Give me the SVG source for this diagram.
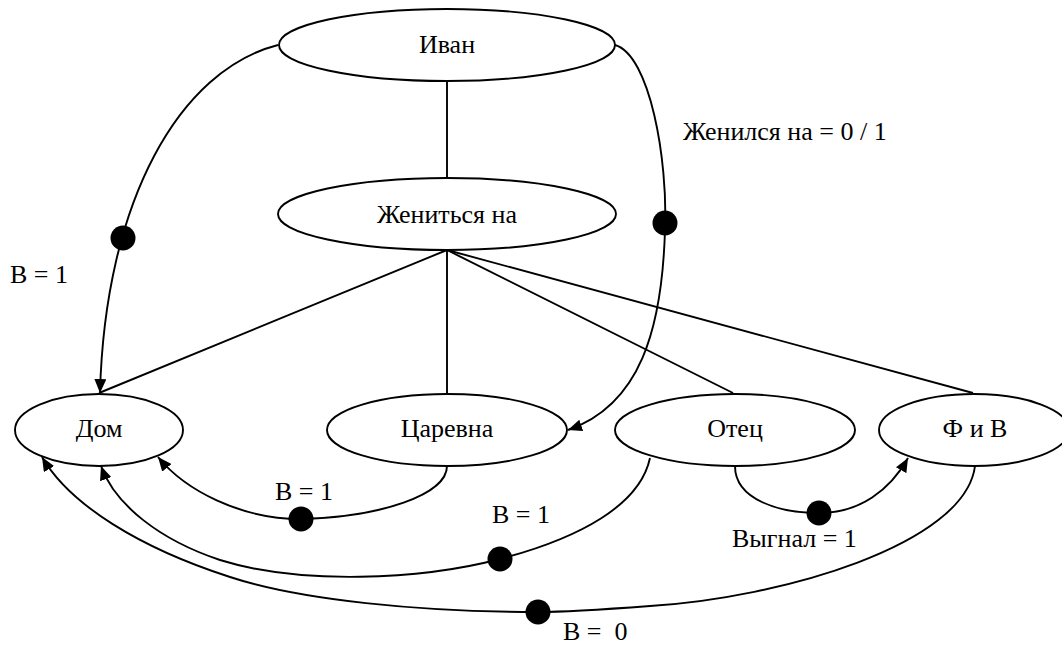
<svg xmlns="http://www.w3.org/2000/svg" width="1062" height="647" viewBox="0 0 1062 647">
<style>
.n ellipse{fill:#fff;stroke:#000;stroke-width:1.9}
text{font-family:"Liberation Serif","Times New Roman","DejaVu Serif",serif;font-size:26px;fill:#000}
.n text{text-anchor:middle}
#connectors path,#connectors line{fill:none;stroke:#000;stroke-width:1.9}
.dot{fill:#000;stroke:none}
</style>
<defs>
<marker id="arr" viewBox="0 0 14 12" refX="14" refY="6" markerWidth="14" markerHeight="12" markerUnits="userSpaceOnUse" orient="auto">
<path d="M0,0 L14,6 L0,12 Z" fill="#000"/>
</marker>
</defs>
<rect width="1062" height="647" fill="#fff"/>
<g id="connectors">
<line x1="447" y1="81" x2="447" y2="178"/>
<line x1="447" y1="250" x2="99" y2="393"/>
<line x1="447" y1="250" x2="447" y2="393"/>
<line x1="447" y1="250" x2="733" y2="393"/>
<line x1="447" y1="250" x2="973" y2="393"/>
<path d="M278,45 C180,70 105,200 100,393" marker-end="url(#arr)"/>
<path d="M615,45 C650,55 668,160 665,230 C662,330 640,405 568,430" marker-end="url(#arr)"/>
<path d="M447,466 C447,495 380,517 301,519 C240,519 185,490 158,457" marker-end="url(#arr)"/>
<path d="M650,458 C640,505 580,538 500,559 C420,580 300,585 220,560 C160,540 115,505 101,466" marker-end="url(#arr)"/>
<path d="M975,466 C965,545 780,598 650,606 C610,609 570,612 538,612 C420,612 300,600 230,577 C140,548 70,505 42,457" marker-end="url(#arr)"/>
<path d="M735,466 C735,500 780,513 819,513 C860,513 890,490 908,458" marker-end="url(#arr)"/>
<circle class="dot" cx="123" cy="238" r="12.5"/>
<circle class="dot" cx="665" cy="223" r="12.5"/>
<circle class="dot" cx="301" cy="519" r="12.5"/>
<circle class="dot" cx="500" cy="559" r="12.5"/>
<circle class="dot" cx="538" cy="612" r="12.5"/>
<circle class="dot" cx="819" cy="513" r="12.5"/>
</g>
<g id="ivan" class="n"><ellipse cx="447" cy="45" rx="168" ry="36"/><text x="447" y="53">Иван</text></g>
<g id="zhenitsya" class="n"><ellipse cx="447" cy="214" rx="169" ry="36"/><text x="447" y="223">Жениться на</text></g>
<g id="dom" class="n"><ellipse cx="99" cy="430" rx="84" ry="36"/><text x="99" y="437">Дом</text></g>
<g id="tsarevna" class="n"><ellipse cx="447" cy="430" rx="120" ry="36"/><text x="447" y="437">Царевна</text></g>
<g id="otets" class="n"><ellipse cx="735" cy="430" rx="120" ry="36"/><text x="735" y="437">Отец</text></g>
<g id="fiv" class="n"><ellipse cx="974" cy="430" rx="95" ry="36"/><text x="975" y="437">Ф и В</text></g>
<g id="labels">
<text x="683" y="140">Женился на = 0 / 1</text>
<text x="10" y="283">В = 1</text>
<text x="275" y="500">В = 1</text>
<text x="492" y="523">В = 1</text>
<text x="732" y="547">Выгнал = 1</text>
<text x="563" y="640" xml:space="preserve">В =  0</text>
</g>
</svg>
